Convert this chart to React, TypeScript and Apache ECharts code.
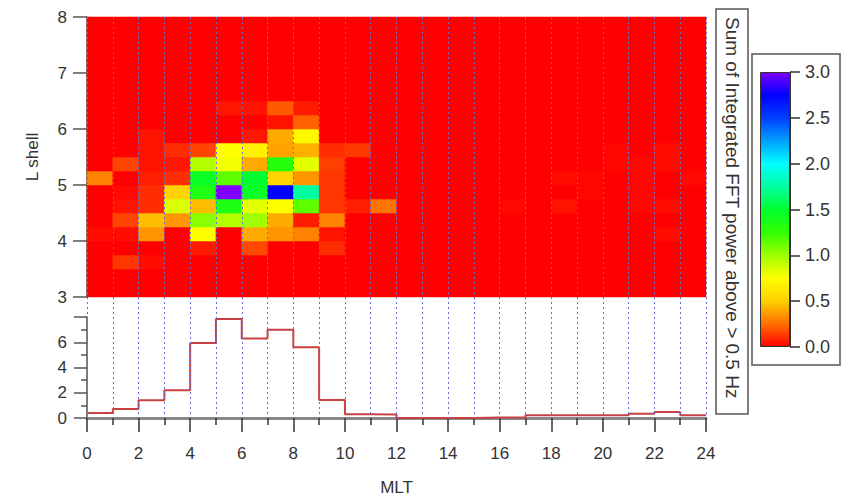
import { useEffect, useRef } from "react";
import * as echarts from "echarts";

// MLT hour bins (start of each 1-hour bin)
const mltBins = ["0","1","2","3","4","5","6","7","8","9","10","11","12","13","14","15","16","17","18","19","20","21","22","23"];
// L-shell bins (lower edge, 0.25 wide), bottom to top
const lBins = ["3.00","3.25","3.50","3.75","4.00","4.25","4.50","4.75","5.00","5.25","5.50","5.75","6.00","6.25","6.50","6.75","7.00","7.25","7.50","7.75"];

// Sum of integrated FFT power, one row per L bin (bottom to top), 24 MLT columns
const power: number[][] = [
  /* 3.00 */ [0,0,0,0,0,0,0,0,0,0,0,0,0,0,0,0,0,0,0,0,0,0,0,0],
  /* 3.25 */ [0,0,0,0,0,0,0,0,0,0,0,0,0,0,0,0,0,0,0,0,0,0,0,0],
  /* 3.50 */ [0,0.12,0.03,0,0,0,0,0,0,0,0,0,0,0,0,0,0,0,0,0,0,0,0,0],
  /* 3.75 */ [0,0,0,0,0.06,0,0.16,0,0,0.1,0,0,0,0,0,0,0,0,0,0,0,0,0,0],
  /* 4.00 */ [0.03,0.03,0.35,0,0.75,0,0.4,0.35,0.3,0.04,0,0,0,0,0,0,0,0,0,0,0,0,0.025,0],
  /* 4.25 */ [0,0.15,0.45,0.35,1.05,0.95,1.0,0.4,0.06,0.3,0,0,0,0,0,0,0,0,0,0,0,0,0,0],
  /* 4.50 */ [0,0.04,0.1,0.85,0.45,1.35,0.82,0.75,1.15,0.12,0.07,0.26,0,0,0,0,0.02,0,0.04,0,0,0.015,0.03,0],
  /* 4.75 */ [0,0.02,0.1,0.52,1.35,3.0,1.45,2.75,1.75,0.12,0,0,0,0,0,0,0,0,0,0.015,0,0.015,0,0],
  /* 5.00 */ [0.3,0,0.07,0.1,1.45,1.15,1.5,0.52,0.35,0.12,0,0,0,0,0,0,0,0,0.025,0.015,0,0.015,0,0.02],
  /* 5.25 */ [0,0.15,0.04,0.05,0.95,0.78,0.4,1.3,0.82,0.14,0,0,0,0,0,0,0,0,0,0,0.015,0.015,0.025,0],
  /* 5.50 */ [0,0,0.04,0.1,0.15,0.75,0.68,0.38,0.42,0.1,0.13,0,0,0,0,0,0,0,0,0,0.015,0,0.03,0],
  /* 5.75 */ [0,0,0.04,0,0,0,0.05,0.4,0.72,0,0,0,0,0,0,0,0,0,0,0,0,0,0,0],
  /* 6.00 */ [0,0,0,0,0,0,0,0.04,0.22,0,0,0,0,0,0,0,0,0,0,0,0,0,0,0],
  /* 6.25 */ [0,0,0,0,0,0.05,0.04,0.2,0.06,0,0,0,0,0,0,0,0,0,0,0,0,0,0,0],
  /* 6.50 */ [0,0,0,0,0,0,0,0,0,0,0,0,0,0,0,0,0,0,0,0,0,0,0,0],
  /* 6.75 */ [0,0,0,0,0,0,0,0,0,0,0,0,0,0,0,0,0,0,0,0,0,0,0,0],
  /* 7.00 */ [0,0,0,0,0,0,0,0,0,0,0,0,0,0,0,0,0,0,0,0,0,0,0,0],
  /* 7.25 */ [0,0,0,0,0,0,0,0,0,0,0,0,0,0,0,0,0,0,0,0,0,0,0,0],
  /* 7.50 */ [0,0,0,0,0,0,0,0,0,0,0,0,0,0,0,0,0,0,0,0,0,0,0,0],
  /* 7.75 */ [0,0,0,0,0,0,0,0,0,0,0,0,0,0,0,0,0,0,0,0,0,0,0,0],
];

// Bottom panel: summed power per MLT hour
const mltSum = [0.4,0.72,1.4,2.2,5.95,7.85,6.3,7.0,5.6,1.42,0.3,0.27,0.0,0.0,0.0,0.03,0.03,0.22,0.22,0.22,0.22,0.33,0.48,0.22];

// Colour scale
const colorMin = 0;
const colorMax = 3;
const rainbow = ["#ff0000","#ff7000","#ffd000","#ffff00","#a0ff00","#30ff00","#00ff30","#00ffa0","#00ffff","#00a0ff","#0040ff","#0000ff","#8000ff"];

const titleText = "Sum of Integrated FFT power above > 0.5 Hz";
const FONT = "'Liberation Sans', Arial, sans-serif";

export default function App() {
  const ref = useRef<HTMLDivElement>(null);
  useEffect(() => {
    if (!ref.current) return;
    const chart = echarts.init(ref.current, null, { renderer: "svg" });

    const heatData: [number, number, number][] = [];
    power.forEach((row, li) => row.forEach((v, mi) => heatData.push([mi, li, v])));

    const stepData: [number, number][] = mltSum.map((v, i) => [Number(mltBins[i]), v]);
    stepData.push([Number(mltBins[mltBins.length - 1]) + 1, mltSum[mltSum.length - 1]]);

    const stops = rainbow.map((c, i) => ({ offset: i / (rainbow.length - 1), color: c }));

    const labelStyle = { color: "#333", fontSize: 17, fontFamily: FONT };

    chart.setOption({
      animation: false,
      backgroundColor: "#fff",
      grid: [
        { left: 87, right: 136, top: 17, height: 280 },
        { left: 87, right: 136, top: 317, height: 101 },
        { left: 87, right: 136, top: 17, height: 401 },
        { left: 760, width: 30, top: 72, height: 275 },
      ],
      xAxis: [
        { type: "category", gridIndex: 0, data: mltBins, show: false },
        {
          type: "value", gridIndex: 1, min: 0, max: 24, interval: 2,
          axisLine: { show: true, onZero: false, lineStyle: { color: "#888", width: 3 } },
          axisTick: { show: true, length: 14, lineStyle: { color: "#333", width: 1.5 } },
          minorTick: { show: true, splitNumber: 2, length: 7, lineStyle: { color: "#333", width: 1.5 } },
          axisLabel: { ...labelStyle, margin: 27 },
          splitLine: { show: false },
          name: "MLT", nameLocation: "middle", nameGap: 61,
          nameTextStyle: { color: "#333", fontSize: 17, fontFamily: FONT },
        },
        {
          type: "value", gridIndex: 2, min: 0, max: 24, interval: 1, z: 10,
          axisLine: { show: false }, axisTick: { show: false }, axisLabel: { show: false },
          splitLine: { show: true, lineStyle: { color: "#6a6ad8", type: [2, 3], width: 1 } },
        },
        { type: "category", gridIndex: 3, data: ["bar"], show: false },
      ],
      yAxis: [
        { type: "category", gridIndex: 0, data: lBins, show: false },
        {
          type: "value", gridIndex: 0, min: 3, max: 8, interval: 1, position: "left",
          axisLine: { show: true, lineStyle: { color: "#555", width: 1.5 } },
          axisTick: { show: true, length: 14, lineStyle: { color: "#555", width: 1.5 } },
          axisLabel: { ...labelStyle, margin: 20 },
          splitLine: { show: false },
          name: "L shell", nameLocation: "middle", nameGap: 46,
          nameTextStyle: { color: "#333", fontSize: 17, fontFamily: FONT },
        },
        {
          type: "value", gridIndex: 1, min: 0, max: 8, interval: 2,
          axisLine: { show: true, lineStyle: { color: "#555", width: 1.5 } },
          axisTick: { show: true, length: 13, lineStyle: { color: "#555", width: 1.5 } },
          minorTick: { show: true, splitNumber: 2, length: 6, lineStyle: { color: "#555", width: 1.5 } },
          axisLabel: { ...labelStyle, margin: 20, showMaxLabel: false },
          splitLine: { show: false },
        },
        { type: "value", gridIndex: 2, min: 0, max: 1, show: false },
        {
          type: "value", gridIndex: 3, min: colorMin, max: colorMax, interval: 0.5, position: "right",
          axisLine: { show: true, lineStyle: { color: "#333", width: 1 } },
          axisTick: { show: true, length: 10, lineStyle: { color: "#333", width: 1.5 } },
          axisLabel: { color: "#333", fontSize: 18, fontFamily: FONT, margin: 15, formatter: (v: number) => v.toFixed(1) },
          splitLine: { show: false },
        },
      ],
      visualMap: {
        type: "continuous", show: false, min: colorMin, max: colorMax, seriesIndex: 0,
        inRange: { color: rainbow },
      },
      series: [
        {
          type: "heatmap", xAxisIndex: 0, yAxisIndex: 0, data: heatData,
          itemStyle: { borderWidth: 0 }, emphasis: { disabled: true },
        },
        {
          type: "line", xAxisIndex: 1, yAxisIndex: 2, data: stepData, step: "end",
          symbol: "none", lineStyle: { color: "#c84040", width: 2 }, z: 5,
        },
        {
          type: "bar", xAxisIndex: 3, yAxisIndex: 4, data: [colorMax], barWidth: "100%",
          itemStyle: { color: new echarts.graphic.LinearGradient(0, 1, 0, 0, stops), borderColor: "#333", borderWidth: 1 },
        },
      ],
      graphic: [
        { type: "rect", shape: { x: 716, y: 9, width: 32, height: 405 }, style: { fill: "none", stroke: "#555", lineWidth: 1.5 } },
        { type: "rect", shape: { x: 752, y: 54, width: 88, height: 311 }, style: { fill: "none", stroke: "#555", lineWidth: 1.5 } },
        {
          type: "text", x: 732, y: 17, rotation: -Math.PI / 2,
          style: { text: titleText, fill: "#333", fontSize: 19, fontFamily: FONT, align: "left", verticalAlign: "middle" },
        },
      ],
    });
    return () => chart.dispose();
  }, []);
  return <div ref={ref} style={{ position: "absolute", left: 0, top: 0, width: 842, height: 497 }} />;
}
